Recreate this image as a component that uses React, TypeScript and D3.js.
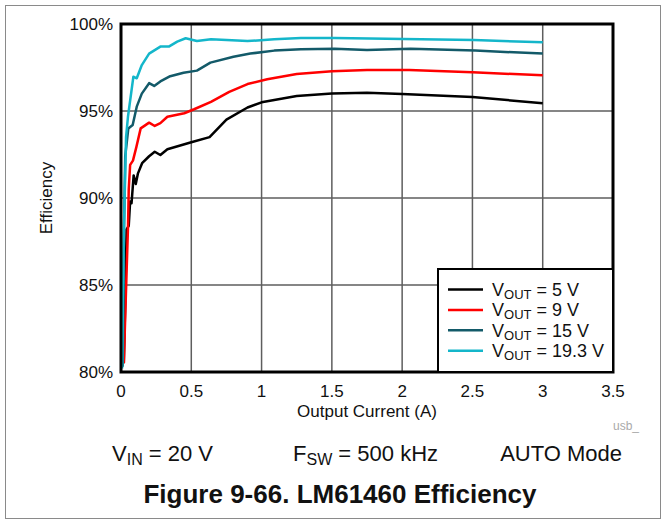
import React from "react";
import * as d3 from "d3";

const xTicks = [0, 0.5, 1, 1.5, 2, 2.5, 3, 3.5];
const yTicks = [80, 85, 90, 95, 100];

const current5V = [0.02, 0.03, 0.04, 0.055, 0.065, 0.075, 0.09, 0.105, 0.12, 0.15, 0.2, 0.24, 0.28, 0.33, 0.5, 0.63, 0.75, 0.9, 1.0, 1.25, 1.5, 1.75, 2.0, 2.5, 3.0];
const eff5V = [80.5, 84, 88.2, 88.4, 89.8, 89.7, 91.3, 90.8, 91.4, 92.0, 92.4, 92.66, 92.47, 92.8, 93.2, 93.5, 94.5, 95.2, 95.5, 95.86, 96.0, 96.05, 95.97, 95.8, 95.45];

const current9V = [0.02, 0.035, 0.05, 0.055, 0.065, 0.085, 0.11, 0.14, 0.2, 0.24, 0.28, 0.33, 0.45, 0.52, 0.64, 0.77, 0.9, 1.04, 1.25, 1.5, 1.75, 2.05, 2.5, 3.0];
const eff9V = [80.5, 84.5, 88.4, 90.5, 91.9, 92.15, 92.95, 94.0, 94.33, 94.14, 94.3, 94.67, 94.87, 95.1, 95.53, 96.1, 96.55, 96.82, 97.13, 97.28, 97.36, 97.36, 97.22, 97.05];

const current15V = [0.012, 0.02, 0.03, 0.052, 0.083, 0.112, 0.148, 0.2, 0.236, 0.28, 0.35, 0.445, 0.54, 0.636, 0.8, 0.92, 1.09, 1.28, 1.52, 1.75, 2.06, 2.52, 3.0];
const eff15V = [80.3, 87.5, 92.4, 94.0, 94.2, 95.25, 96.0, 96.6, 96.44, 96.7, 97.0, 97.2, 97.32, 97.78, 98.12, 98.3, 98.47, 98.55, 98.58, 98.5, 98.58, 98.47, 98.3];

const current19V = [0.008, 0.02, 0.036, 0.05, 0.088, 0.112, 0.148, 0.2, 0.28, 0.34, 0.4, 0.46, 0.54, 0.64, 0.9, 1.09, 1.28, 1.52, 2.01, 2.51, 3.0];
const eff19V = [80.2, 88.0, 93.5, 94.7, 96.97, 96.88, 97.64, 98.3, 98.7, 98.7, 98.99, 99.18, 99.02, 99.12, 99.02, 99.12, 99.2, 99.2, 99.14, 99.08, 98.95];

const seriesNames = ["5 V", "9 V", "15 V", "19.3 V"];
const seriesColors = ["#000000", "#ff0000", "#135a69", "#14b6ca"];

const FONT = "'Liberation Sans', Arial, Helvetica, sans-serif";

export default function App() {
  const left = 121, right = 613, top = 24, bottom = 372;
  const x = d3.scaleLinear().domain([0, 3.5]).range([left, right]);
  const y = d3.scaleLinear().domain([80, 100]).range([bottom, top]);
  const line = d3.line<[number, number]>().x(d => x(d[0])).y(d => y(d[1]));

  const series = [
    d3.zip(current5V, eff5V) as [number, number][],
    d3.zip(current9V, eff9V) as [number, number][],
    d3.zip(current15V, eff15V) as [number, number][],
    d3.zip(current19V, eff19V) as [number, number][],
  ];

  const legX = 438, legY = 269;
  return (
    <svg width={663} height={521} style={{ position: "absolute", left: 0, top: 0 }} fontFamily={FONT}>
      <rect x={0} y={0} width={663} height={521} fill="#fff" />
      <rect x={5.5} y={5.5} width={655} height={513} fill="none" stroke="#8a8a8a" strokeWidth={1} />
      {xTicks.slice(1, -1).map(t => (
        <line key={"gx" + t} x1={x(t)} x2={x(t)} y1={top} y2={bottom} stroke="#5e5e5e" strokeWidth={1.5} />
      ))}
      {yTicks.slice(1, -1).map(t => (
        <line key={"gy" + t} x1={left} x2={right} y1={y(t)} y2={y(t)} stroke="#5e5e5e" strokeWidth={1.5} />
      ))}
      <defs>
        <clipPath id="plotclip"><rect x={left} y={top} width={right - left} height={bottom - top} /></clipPath>
      </defs>
      <g clipPath="url(#plotclip)">
        {series.map((s, i) => (
          <path key={i} d={line(s) || ""} fill="none" stroke={seriesColors[i]} strokeWidth={2.5} strokeLinejoin="round" />
        ))}
      </g>
      <rect x={left} y={top} width={right - left} height={bottom - top} fill="none" stroke="#000" strokeWidth={3} />
      {yTicks.map(t => (
        <text key={"yl" + t} x={left - 8} y={y(t)} dy="0.35em" textAnchor="end" fontSize={17} fill="#111">{t}%</text>
      ))}
      {xTicks.map(t => (
        <text key={"xl" + t} x={x(t)} y={397} textAnchor="middle" fontSize={17} fill="#111">{t}</text>
      ))}
      <text x={367} y={417} textAnchor="middle" fontSize={17} fill="#111">Output Current (A)</text>
      <text transform={`translate(52,${(top + bottom) / 2}) rotate(-90)`} textAnchor="middle" fontSize={17} fill="#111">Efficiency</text>
      <text x={613} y={430} fontSize={12} fill="#aaa">usb_</text>

      <rect x={legX} y={legY} width={right - legX} height={bottom - legY} fill="#fff" stroke="#000" strokeWidth={2} />
      {seriesNames.map((n, i) => {
        const ry = legY + 20.5 + i * 20.4;
        return (
          <g key={n}>
            <line x1={448} x2={483} y1={ry} y2={ry} stroke={seriesColors[i]} strokeWidth={2.5} />
            <text x={492} y={ry + 6.5} fontSize={18} fill="#111">
              V<tspan fontSize={13} dy={3}>OUT</tspan><tspan dy={-3}> = {n}</tspan>
            </text>
          </g>
        );
      })}

      <text x={112} y={461} fontSize={22} fill="#111">V<tspan fontSize={16} dy={4}>IN</tspan><tspan dy={-4}> = 20 V</tspan></text>
      <text x={293} y={461} fontSize={22} fill="#111">F<tspan fontSize={16} dy={4}>SW</tspan><tspan dy={-4}> = 500 kHz</tspan></text>
      <text x={622} y={461} textAnchor="end" fontSize={22} fill="#111">AUTO Mode</text>
      <text x={340} y={503} textAnchor="middle" fontSize={26} fontWeight="bold" fill="#111">Figure 9-66. LM61460 Efficiency</text>
    </svg>
  );
}
